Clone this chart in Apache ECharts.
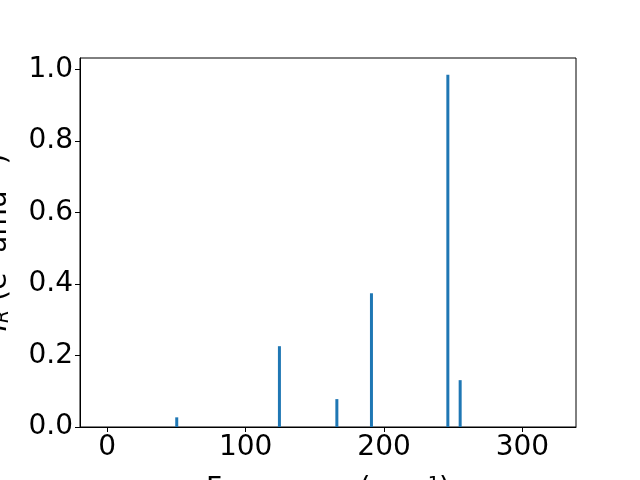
<!DOCTYPE html>
<html><head><meta charset="utf-8">
<script src="https://cdn.jsdelivr.net/npm/echarts@6/dist/echarts.min.js"></script>
<style>html,body{margin:0;padding:0;background:#fff}#c{width:640px;height:480px}</style>
</head><body><div id="c"></div>
<script>
const frequencies = [50.2, 124.4, 165.9, 190.9, 246.1, 255.0];
const intensities = [0.027, 0.226, 0.078, 0.374, 0.985, 0.131];
const xTicks = [0, 100, 200, 300];
const yTicks = [0.0, 0.2, 0.4, 0.6, 0.8, 1.0];
const xLabel = 'Frequency (cm⁻¹)';
const yLabel = '{it|I}{sub|R} (e² amu⁻¹)';

const chart = echarts.init(document.getElementById('c'), null, {renderer: 'canvas'});
const font = 'DejaVu Sans';
const fs = 28;
chart.setOption({
  animation: false,
  backgroundColor: '#fff',
  grid: {left: 80, right: 64, top: 58, bottom: 53, containLabel: false, outerBoundsMode: 'none',
         show: true, borderColor: '#000', borderWidth: 1, backgroundColor: 'transparent'},
  xAxis: {
    type: 'value', min: -19.7, max: 338.7,
    name: xLabel, nameLocation: 'middle', nameGap: 49,
    nameTextStyle: {fontFamily: font, fontSize: fs, color: '#000'},
    axisLine: {show: true, onZero: false, lineStyle: {color: '#000', width: 1}},
    axisTick: {show: true, inside: false, length: 5, lineStyle: {color: '#000'}, customValues: xTicks},
    axisLabel: {fontFamily: font, fontSize: fs, color: '#000', margin: 7, customValues: xTicks, formatter: v => String(v)},
    splitLine: {show: false}
  },
  yAxis: {
    type: 'value', min: 0, max: 1.032,
    name: yLabel, nameLocation: 'middle', nameGap: 67, nameRotate: 90,
    nameTextStyle: {fontFamily: font, fontSize: fs, color: '#000',
      rich: {
        it: {fontFamily: font, fontSize: fs, fontStyle: 'italic', color: '#000'},
        sub: {fontFamily: font, fontSize: 19, fontStyle: 'italic', color: '#000', verticalAlign: 'bottom', padding: [10, 0, 0, 0]}
      }},
    axisLine: {show: true, onZero: false, lineStyle: {color: '#000', width: 1}},
    axisTick: {show: true, length: 5, lineStyle: {color: '#000'}, customValues: yTicks},
    axisLabel: {fontFamily: font, fontSize: fs, color: '#000', margin: 7, customValues: yTicks, formatter: v => v.toFixed(1)},
    splitLine: {show: false}
  },
  series: [{
    type: 'bar',
    barWidth: 3,
    itemStyle: {color: '#1f77b4'},
    data: frequencies.map((f, i) => [f, intensities[i]])
  }]
});
</script></body></html>
